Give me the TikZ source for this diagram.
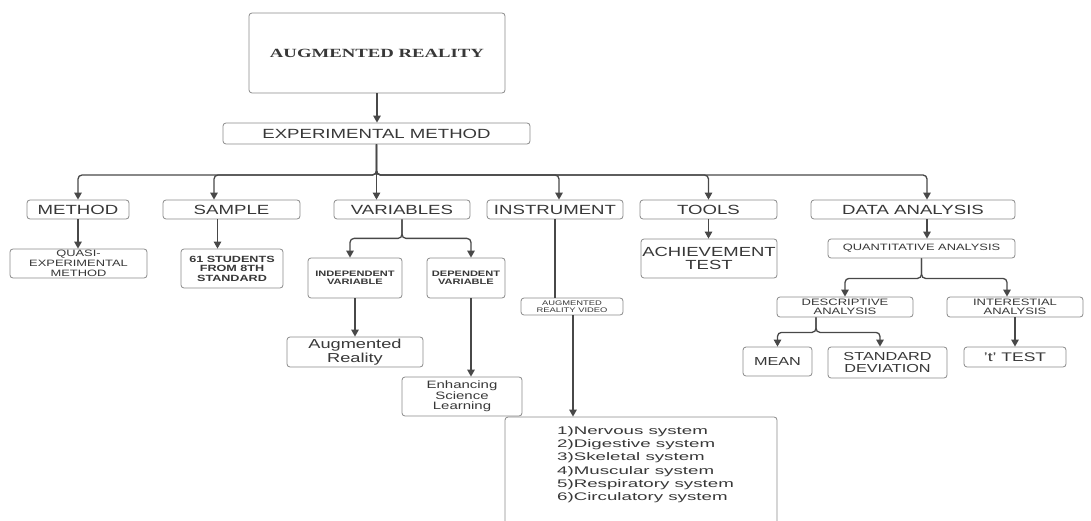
\documentclass[tikz,border=0pt]{standalone}
\usepackage{fontspec}
\usepackage{xcolor}
\setmainfont{Liberation Sans}[FakeStretch=1.4]
\newfontfamily\widefont{Liberation Sans}[FakeStretch=1.7]
\newfontfamily\titlefont{Liberation Serif}[FakeStretch=1.5]
\usetikzlibrary{arrows.meta}

\definecolor{boxline}{HTML}{8A8A8A}
\definecolor{wirecol}{HTML}{484848}
\definecolor{ink}{HTML}{383838}
\newcommand{\fs}[2]{\fontsize{#1}{#2}\selectfont}

\begin{document}
\begin{tikzpicture}[x=1pt, y=-1pt,
    box/.style={draw=boxline, line width=0.8pt, rounded corners=3pt, fill=white,
        text=ink, align=center, inner sep=0pt},
    wire/.style={draw=wirecol, line width=1.3pt},
    arr/.style={wire, -{Triangle[length=7pt, width=7.5pt]}}]
    \useasboundingbox (0,0) rectangle (1091,521);

    % top of the tree
    \node[box, minimum width=256pt, minimum height=80pt, font=\titlefont\bfseries\fs{12.5}{14}] (ar) at (377,53)
        {AUGMENTED REALITY};
    \node[box, minimum width=307pt, minimum height=21pt, font=\fs{13.3}{15}] (exp) at (376.5,133.5)
        {EXPERIMENTAL METHOD};

    % first row
    \node[box, minimum width=102pt, minimum height=19pt, font=\fs{13.3}{15}] (method) at (78,209.5)
        {METHOD};
    \node[box, minimum width=137pt, minimum height=19pt, font=\fs{13.3}{15}] (sample) at (231.5,209.5)
        {SAMPLE};
    \node[box, minimum width=136pt, minimum height=19pt, font=\fs{13.3}{15}] (variables) at (402,209.5)
        {VARIABLES};
    \node[box, minimum width=136pt, minimum height=19pt, font=\fs{13.3}{15}] (instrument) at (555,209.5)
        {INSTRUMENT};
    \node[box, minimum width=137pt, minimum height=19pt, font=\fs{13.3}{15}] (tools) at (708.5,209.5)
        {TOOLS};
    \node[box, minimum width=204pt, minimum height=19pt, font=\fs{13.3}{15}] (data) at (913,209.5)
        {DATA ANALYSIS};

    % second row
    \node[box, minimum width=137pt, minimum height=29pt, font=\fs{9.2}{10}] (quasi) at (78.5,263.5)
        {QUASI-\\EXPERIMENTAL\\METHOD};
    \node[box, minimum width=102pt, minimum height=39pt, font=\bfseries\fs{9}{9.5}] (students) at (232,268.5)
        {61 STUDENTS\\FROM 8TH\\STANDARD};
    \node[box, minimum width=94pt, minimum height=40pt, font=\bfseries\fs{7.9}{8.5}] (indep) at (355,278)
        {INDEPENDENT\\VARIABLE};
    \node[box, minimum width=78pt, minimum height=40pt, font=\bfseries\fs{7.9}{8.5}] (dep) at (466,278)
        {DEPENDENT\\VARIABLE};
    \node[box, minimum width=102pt, minimum height=17pt, font=\fs{6.7}{6.5}] (arvideo) at (572,306.5)
        {AUGMENTED\\REALITY VIDEO};
    \node[box, minimum width=136pt, minimum height=39pt, font=\fs{13.2}{13}] (achieve) at (709,258.5)
        {ACHIEVEMENT\\TEST};
    \node[box, minimum width=187pt, minimum height=19pt, font=\fs{9.2}{10}] (quant) at (921.5,248.5)
        {QUANTITATIVE ANALYSIS};

    % lower rows
    \node[box, minimum width=136pt, minimum height=30pt, font=\fs{13}{14}] (augreal) at (355,352)
        {Augmented\\Reality};
    \node[box, minimum width=120pt, minimum height=39pt, font=\fs{10.7}{10.7}] (enh) at (462,396.5)
        {Enhancing\\Science\\Learning};
    \node[box, minimum width=136pt, minimum height=20pt, font=\fs{9.3}{9.5}] (desc) at (845,307)
        {DESCRIPTIVE\\ANALYSIS};
    \node[box, minimum width=136pt, minimum height=20pt, font=\fs{9.3}{9.5}] (inter) at (1015,307)
        {INTERESTIAL\\ANALYSIS};
    \node[box, minimum width=69pt, minimum height=29pt, font=\fs{11.6}{12}] (mean) at (777.5,361.5)
        {MEAN};
    \node[box, minimum width=119pt, minimum height=31pt, font=\fs{11.6}{12}] (stddev) at (887.5,362.5)
        {STANDARD\\DEVIATION};
    \node[box, minimum width=102pt, minimum height=20pt, font=\fs{12.5}{13}] (ttest) at (1015,357)
        {'t' TEST};

    \node[box, minimum width=272pt, minimum height=140pt] (sysbox) at (641,487) {};
    \node[text=ink, align=left, inner sep=0pt, anchor=north west, font=\widefont\fs{11}{13.3}] (syslist) at (557,426)
        {1)Nervous system\\2)Digestive system\\3)Skeletal system\\
         4)Muscular system\\5)Respiratory system\\6)Circulatory system};

    % connectors
    \coordinate (bus) at (376,175);
    \coordinate (sampleIn) at ([xshift=-17.5pt]sample.north);
    \coordinate (instrIn) at ([xshift=4pt]instrument.north);
    \coordinate (dataIn) at ([xshift=14pt]data.north);
    \coordinate (sampleOut) at ([xshift=-14pt]sample.south);
    \coordinate (indepIn) at ([xshift=-5pt]indep.north);
    \coordinate (depIn) at ([xshift=5pt]dep.north);
    \coordinate (interIn) at ([xshift=-8pt]inter.north);
    \coordinate (descOut) at ([xshift=-29pt]desc.south);
    \coordinate (sdIn) at ([xshift=-7.5pt]stddev.north);
    \coordinate (sysIn) at ([xshift=-68pt]sysbox.north);

    \draw[arr] (ar.south) -- (ar.south |- exp.north);
    \draw[arr, rounded corners=4pt] (exp.south) |- (bus -| method.north) -- (method.north);
    \draw[arr, rounded corners=4pt] (exp.south) |- (bus -| sampleIn) -- (sampleIn);
    \draw[arr] (exp.south) -- (exp.south |- variables.north);
    \draw[arr, rounded corners=4pt] (exp.south) |- (bus -| instrIn) -- (instrIn);
    \draw[arr, rounded corners=4pt] (exp.south) |- (bus -| tools.north) -- (tools.north);
    \draw[arr, rounded corners=4pt] (exp.south) |- (bus -| dataIn) -- (dataIn);

    \draw[arr] (method.south) -- (quasi.north -| method.south);
    \draw[arr] (sampleOut) -- (sampleOut |- students.north);

    \path (variables.south) ++(0,19) coordinate (varFork);
    \draw[arr, rounded corners=4pt] (variables.south) -- (varFork) -| (indepIn);
    \draw[arr, rounded corners=4pt] (variables.south) -- (varFork) -| (depIn);
    \draw[arr] (indep.south) -- (indep.south |- augreal.north);
    \draw[arr] (depIn |- dep.south) -- (depIn |- enh.north);

    \draw[wire] (instrument.south) -- (instrument.south |- arvideo.north);
    \draw[arr] (sysIn |- arvideo.south) -- (sysIn);

    \draw[arr] (tools.south) -- (tools.south |- achieve.north);
    \draw[arr] (dataIn |- data.south) -- (dataIn |- quant.north);

    \path (quant.south) ++(0,20) coordinate (quantFork);
    \draw[arr, rounded corners=4pt] (quant.south) -- (quantFork) -| (desc.north);
    \draw[arr, rounded corners=4pt] (quant.south) -- (quantFork) -| (interIn);

    \path (descOut) ++(0,15) coordinate (descFork);
    \draw[arr, rounded corners=4pt] (descOut) -- (descFork) -| (mean.north);
    \draw[arr, rounded corners=4pt] (descOut) -- (descFork) -| (sdIn);
    \draw[arr] (inter.south) -- (inter.south |- ttest.north);
\end{tikzpicture}
\end{document}
